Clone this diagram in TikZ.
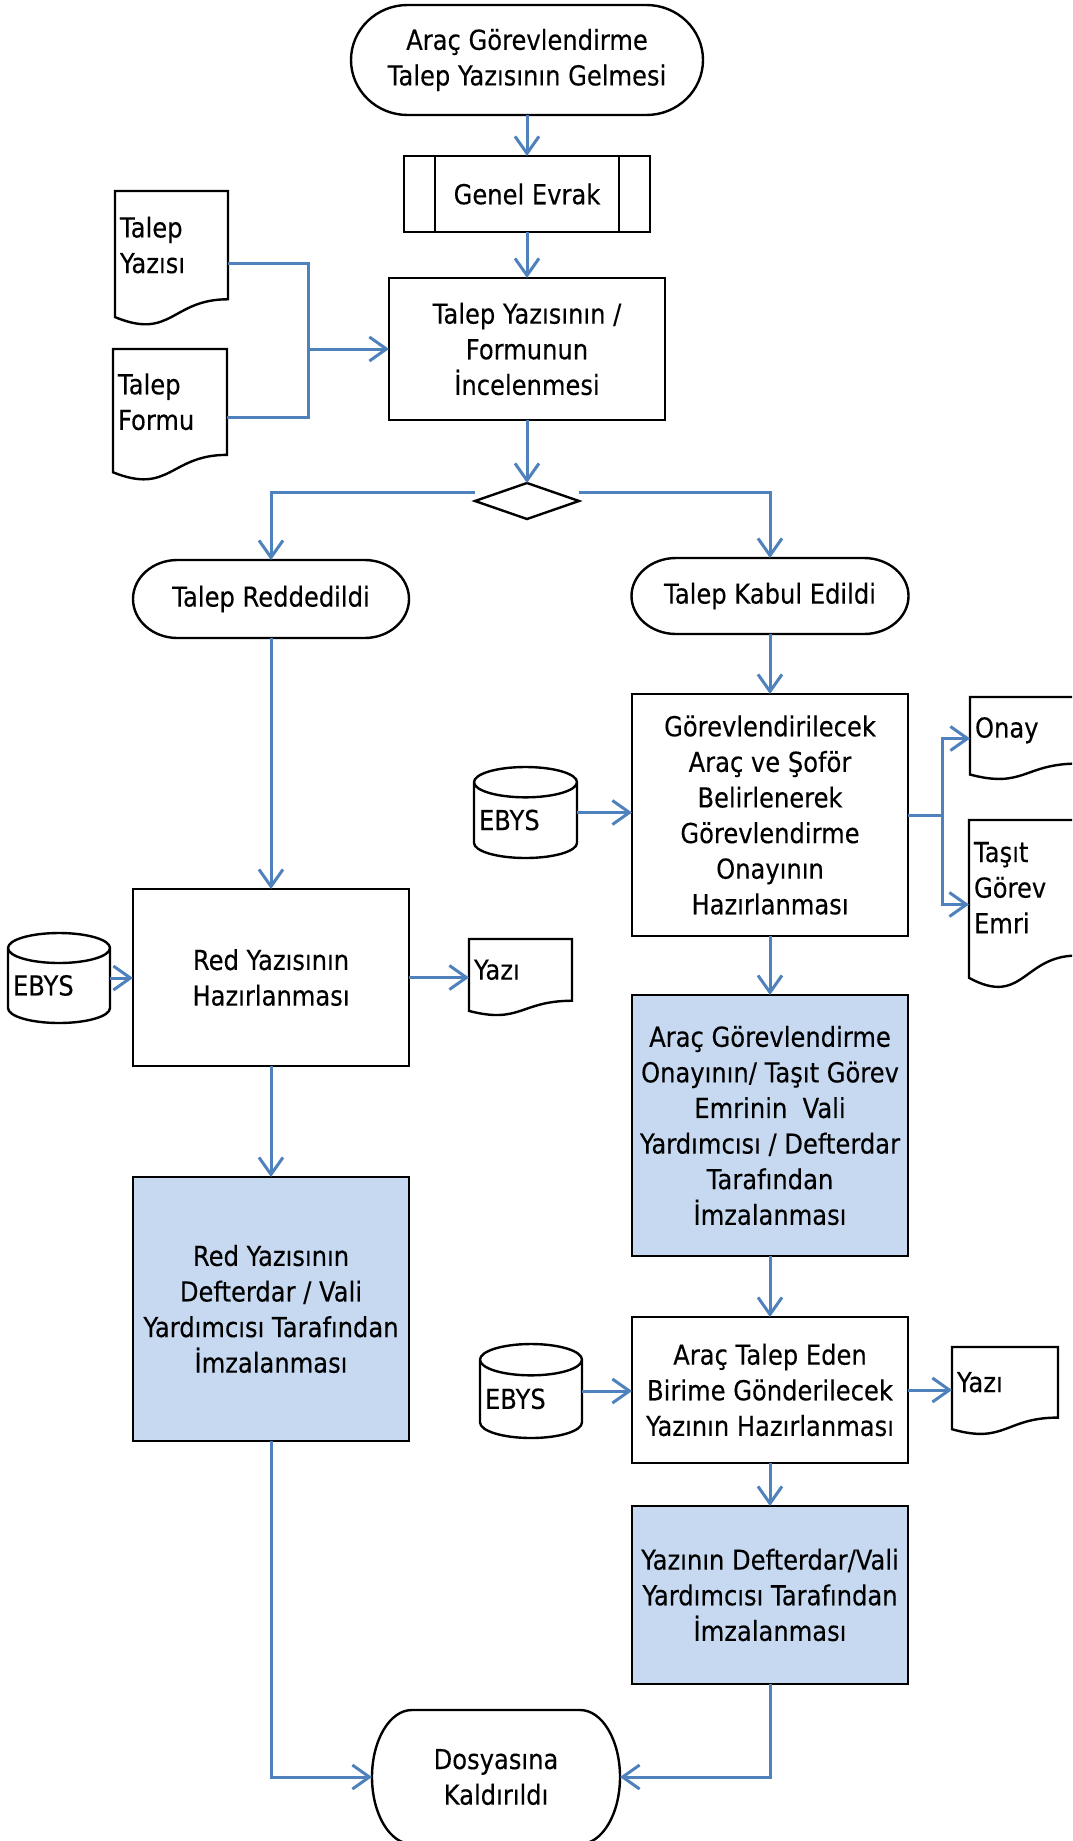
\documentclass[tikz,border=0pt]{standalone}
\usepackage{fontspec}
\setmainfont{DejaVu Sans}[FakeStretch=0.88,FakeBold=0.25]
\usetikzlibrary{arrows.meta,calc}
\definecolor{lineblue}{HTML}{4F81BD}
\definecolor{fillblue}{HTML}{C6D9F1}
\tikzset{
  every node/.style={font=\fontsize{27.5}{35.6}\selectfont, inner sep=0pt, outer sep=0pt},
  shapeline/.style={draw=black, line width=2.4pt},
  box/.style={draw=black, line width=2.4pt, align=center},
  bluebox/.style={box, fill=fillblue},
  shp/.style={draw=none, align=center},
  doctext/.style={anchor=west, align=left, xshift=5pt},
  flow/.style={draw=lineblue, line width=3pt, -{Straight Barb[length=17pt,width=24pt]}},
  bline/.style={draw=lineblue, line width=3pt},
}
\newcommand\docpath[1]{%
  \draw[shapeline] let \p1=(#1.north west), \p2=(#1.south east), \n1={\x2-\x1}, \n2={\y1-\y2} in
  (\p1) -- (\x2,\y1) -- (\x2,\y1-0.802*\n2)
  .. controls (\x1+0.5*\n1,\y1-0.802*\n2) and (\x1+0.5*\n1,\y1-1.1075*\n2) .. (\x1,\y1-0.934*\n2) -- cycle;}
\newcommand\diskpath[1]{%
  \draw[shapeline] let \p1=(#1.north west), \p2=(#1.south east), \n1={(\x2-\x1)/2}, \n2={(\y1-\y2)/6} in
  (\x1,\y1-\n2) -- (\x1,\y2+\n2) arc[start angle=180,end angle=360,x radius={\n1*1pt},y radius={\n2*1pt}]
  -- (\x2,\y1-\n2) arc[start angle=0,end angle=180,x radius={\n1*1pt},y radius={\n2*1pt}] -- cycle
  (\x1,\y1-\n2) arc[start angle=180,end angle=360,x radius={\n1*1pt},y radius={\n2*1pt}];}
\newcommand\termpath[1]{%
  \draw[shapeline] let \p1=(#1.north west), \p2=(#1.south east), \n1={0.1609*(\x2-\x1)}, \n2={(\y1-\y2)/2} in
  (\x1+\n1,\y1) -- (\x2-\n1,\y1) arc[start angle=90,end angle=-90,x radius={\n1*1pt},y radius={\n2*1pt}]
  -- (\x1+\n1,\y2) arc[start angle=270,end angle=90,x radius={\n1*1pt},y radius={\n2*1pt}] -- cycle;}
\begin{document}
\begin{tikzpicture}[x=1pt,y=-1pt]
\useasboundingbox (0,0) rectangle (1072,1841);
\fill[white] (0,0) rectangle (1072,1841);
\clip (0,0) rectangle (1072,1841);

% central column
\node[shp, minimum width=352pt, minimum height=110pt] (start) at (527,60) {Araç Görevlendirme\\Talep Yazısının Gelmesi};
\termpath{start}
\node[box, minimum width=246pt, minimum height=76pt] (genel) at (527,194) {Genel Evrak};
\draw[shapeline] ([xshift=30.75pt]genel.north west) -- ([xshift=30.75pt]genel.south west)
                 ([xshift=-30.75pt]genel.north east) -- ([xshift=-30.75pt]genel.south east);
\node[box, minimum width=276pt, minimum height=142pt] (inc) at (527,349) {Talep Yazısının /\\Formunun\\İncelenmesi};
\node[shp, minimum width=104pt, minimum height=36pt] (dia) at (527,501) {};
\draw[shapeline] (dia.north) -- (dia.east) -- (dia.south) -- (dia.west) -- cycle;

% input documents
\node[shp, minimum width=113pt, minimum height=135pt] (ty) at (171.5,258.5) {};
\docpath{ty}
\node[doctext] (tyt) at ($(ty.north west)!0.4!(ty.south west)$) {Talep\\Yazısı};
\node[shp, minimum width=114pt, minimum height=132pt] (tf) at (170,415) {};
\docpath{tf}
\node[doctext] (tft) at ($(tf.north west)!0.4!(tf.south west)$) {Talep\\Formu};
\coordinate (jn) at (308,349);

% left column
\node[shp, minimum width=276pt, minimum height=78pt] (rej) at (271,599) {Talep Reddedildi};
\termpath{rej}
\node[box, minimum width=276pt, minimum height=177pt] (redbox) at (271,977.5) {Red Yazısının\\Hazırlanması};
\node[shp, minimum width=102pt, minimum height=90pt] (ebys2) at (59,978) {};
\diskpath{ebys2}
\node[doctext] (ebys2t) at ($(ebys2.north west)!0.583!(ebys2.south west)$) {EBYS};
\node[shp, minimum width=103pt, minimum height=77pt] (yazi1) at (520.5,977.5) {};
\docpath{yazi1}
\node[doctext] (yazi1t) at ($(yazi1.north west)!0.4!(yazi1.south west)$) {Yazı};
\node[bluebox, minimum width=276pt, minimum height=264pt] (blue3) at (271,1309) {Red Yazısının\\Defterdar / Vali\\Yardımcısı Tarafından\\İmzalanması};

% right column
\node[shp, minimum width=277pt, minimum height=76pt] (acc) at (770,596) {Talep Kabul Edildi};
\termpath{acc}
\node[box, minimum width=276pt, minimum height=242pt] (gor) at (770,815) {Görevlendirilecek\\Araç ve Şoför\\Belirlenerek\\Görevlendirme\\Onayının\\Hazırlanması};
\node[shp, minimum width=103pt, minimum height=91pt] (ebys1) at (525.5,812.5) {};
\diskpath{ebys1}
\node[doctext] (ebys1t) at ($(ebys1.north west)!0.583!(ebys1.south west)$) {EBYS};
\node[shp, minimum width=108pt, minimum height=83pt] (onay) at (1024,738.5) {};
\docpath{onay}
\node[doctext] (onayt) at ($(onay.north west)!0.4!(onay.south west)$) {Onay};
\node[shp, minimum width=108pt, minimum height=169pt] (tasit) at (1023,904.5) {};
\docpath{tasit}
\node[doctext] (tasitt) at ($(tasit.north west)!0.4!(tasit.south west)$) {Taşıt\\Görev\\Emri};
\node[bluebox, minimum width=276pt, minimum height=261pt] (blue1) at (770,1125.5) {Araç Görevlendirme\\Onayının/ Taşıt Görev\\Emrinin~ Vali\\Yardımcısı / Defterdar\\Tarafından\\İmzalanması};
\node[box, minimum width=276pt, minimum height=146pt] (tal) at (770,1390) {Araç Talep Eden\\Birime Gönderilecek\\Yazının Hazırlanması};
\node[shp, minimum width=102pt, minimum height=94pt] (ebys3) at (531,1391) {};
\diskpath{ebys3}
\node[doctext] (ebys3t) at ($(ebys3.north west)!0.583!(ebys3.south west)$) {EBYS};
\node[shp, minimum width=106pt, minimum height=88pt] (yazi2) at (1005,1391) {};
\docpath{yazi2}
\node[doctext] (yazi2t) at ($(yazi2.north west)!0.4!(yazi2.south west)$) {Yazı};
\node[bluebox, minimum width=276pt, minimum height=178pt] (blue2) at (770,1595) {Yazının Defterdar/Vali\\Yardımcısı Tarafından\\İmzalanması};

% end
\node[shp, minimum width=248pt, minimum height=134pt] (dos) at (496,1777) {Dosyasına\\Kaldırıldı};
\termpath{dos}

% connectors
\draw[flow] (start.south) -- (genel.north);
\draw[flow] (genel.south) -- (inc.north);
\draw[bline] ($(ty.east)+(0,4.5)$) -| (jn);
\draw[bline] ($(tf.east)+(0,2)$) -| (jn);
\draw[flow] (jn) -- (jn -| inc.west);
\draw[flow] (inc.south) -- (dia.north);
\draw[flow] ($(dia.west)+(0,-9)$) -| (rej.north);
\draw[flow] ($(dia.east)+(0,-9)$) -| (acc.north);

\draw[flow] (rej.south) -- (redbox.north);
\draw[flow] (ebys2.east) -- (ebys2.east -| redbox.west);
\draw[flow] (redbox.east) -- (redbox.east -| yazi1.west);
\draw[flow] (redbox.south) -- (blue3.north);
\draw[flow] (blue3.south) |- (dos.west);

\draw[flow] (acc.south) -- (gor.north);
\draw[flow] (ebys1.east) -- (ebys1.east -| gor.west);
\draw[bline] (gor.east) -- ++(34,0) coordinate (gj);
\draw[flow] (gj) |- (onay.west);
\draw[flow] (gj) |- (tasit.west);
\draw[flow] (gor.south) -- (blue1.north);
\draw[flow] (blue1.south) -- (tal.north);
\draw[flow] (ebys3.east) -- (ebys3.east -| tal.west);
\draw[flow] (tal.east) -- (tal.east -| yazi2.west);
\draw[flow] (tal.south) -- (blue2.north);
\draw[flow] (blue2.south) |- (dos.east);
\end{tikzpicture}
\end{document}
